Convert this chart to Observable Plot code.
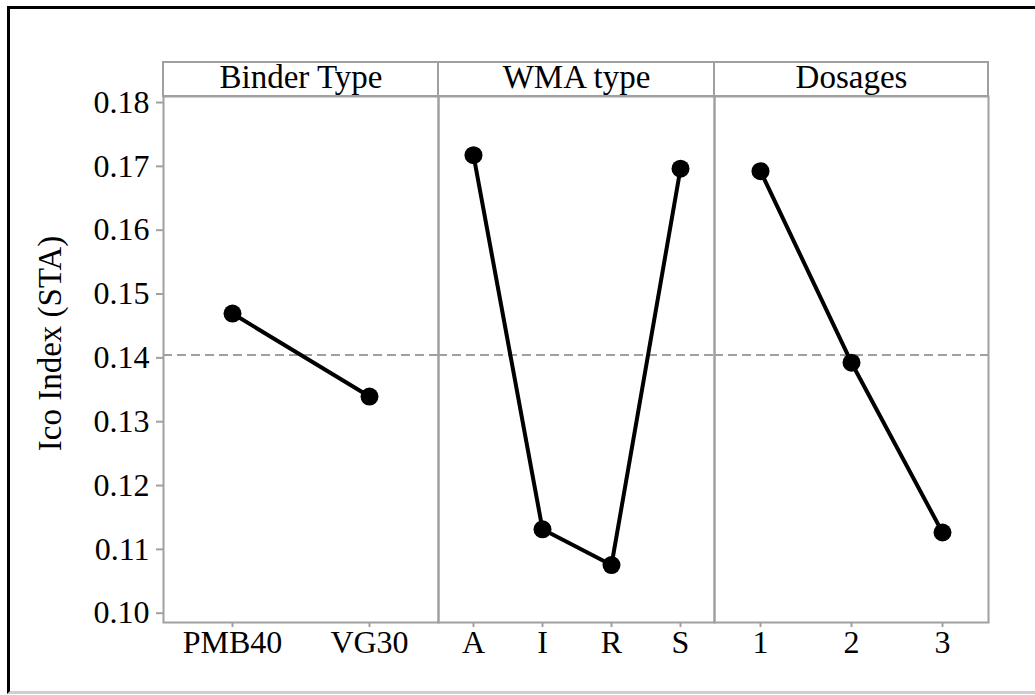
<!DOCTYPE html>
<html>
<head>
<meta charset="utf-8">
<script src="https://cdn.jsdelivr.net/npm/d3@7"></script>
<script src="https://cdn.jsdelivr.net/npm/@observablehq/plot@0.6"></script>
<style>
  html, body { margin: 0; padding: 0; background: #fff; }
  #wrap { position: relative; width: 1035px; height: 695px; overflow: hidden; background: #fff; }
  .outer { position: absolute; left: 7px; top: 6px; width: 1060px; height: 688px; box-sizing: border-box;
           border-top: 3px solid #000; border-left: 3px solid #000; border-bottom: 3px solid #cfcfcf; }
  .hdr { position: absolute; box-sizing: border-box; border: 2px solid #a0a0a0; }
  .vdiv { position: absolute; background: #a0a0a0; }
  .panel { position: absolute; }
</style>
</head>
<body>
<div id="wrap">
  <div class="outer"></div>
</div>
<script>
// ---- data ----
const factorNames = ["Binder Type", "WMA type", "Dosages"];
const binderCats = ["PMB40", "VG30"];
const binderVals = [0.1471, 0.1341];
const wmaCats = ["A", "I", "R", "S"];
const wmaVals = [0.1719, 0.1133, 0.1077, 0.1698];
const dosageCats = ["1", "2", "3"];
const dosageVals = [0.1694, 0.1394, 0.1128];
const yTicks = [0.10, 0.11, 0.12, 0.13, 0.14, 0.15, 0.16, 0.17, 0.18];
const yDomain = [0.0987, 0.1811];
const grandMean = 0.1406;
const yLabel = "Ico Index (STA)";

const GRAY = "#a0a0a0";
const FONT = "Liberation Serif";

const wrap = document.getElementById("wrap");

// frame geometry
const frameTop = 96, frameH = 526;
const panels = [
  {name: factorNames[0], cats: binderCats, vals: binderVals, left: 163, width: 275, yAxis: true},
  {name: factorNames[1], cats: wmaCats, vals: wmaVals, left: 438, width: 276, yAxis: false},
  {name: factorNames[2], cats: dosageCats, vals: dosageVals, left: 714, width: 274, yAxis: false}
];

const mt = 36, mb = 50;
panels.forEach((p) => {
  const data = p.cats.map((c, i) => ({cat: c, val: p.vals[i]}));
  const ml = p.yAxis ? p.left : 2;
  const mr = 2;
  const marks = [
    Plot.frame({stroke: GRAY, strokeWidth: 2}),
    Plot.ruleY([grandMean], {stroke: GRAY, strokeWidth: 2, strokeDasharray: "9,5"}),
    Plot.line(data, {x: "cat", y: "val", stroke: "black", strokeWidth: 4}),
    Plot.dot(data, {x: "cat", y: "val", r: 9, fill: "black", stroke: null}),
    Plot.axisX({tickSize: 5, tickPadding: 3, stroke: GRAY, strokeWidth: 2, fill: "black",
      fontSize: 32, fontFamily: FONT, fontVariant: "normal", label: null}),
    Plot.text([p.name], {frameAnchor: "top", dy: -19, lineAnchor: "middle", fontSize: 33,
      fontFamily: FONT, fill: "black"})
  ];
  if (p.yAxis) {
    marks.push(Plot.axisY({ticks: yTicks, tickFormat: d3.format(".2f"), tickSize: 7, tickPadding: 7,
      stroke: GRAY, strokeWidth: 2, fill: "black", fontSize: 32, fontFamily: FONT, fontVariant: "normal",
      label: null, dy: -1}));
    marks.push(Plot.text([yLabel], {frameAnchor: "left", rotate: -90, dx: -113, dy: -16,
      textAnchor: "middle", lineAnchor: "middle", fontSize: 33, fontFamily: FONT, fill: "black"}));
  }
  const svg = Plot.plot({
    width: ml + p.width + mr,
    height: mt + frameH + mb,
    marginLeft: ml, marginRight: mr, marginTop: mt, marginBottom: mb,
    style: {fontFamily: FONT, fontSize: "32px", background: "transparent", overflow: "visible", color: "black"},
    x: {type: "point", domain: p.cats, padding: 0.5, axis: null},
    y: {domain: yDomain, axis: null},
    marks
  });
  const holder = document.createElement("div");
  holder.className = "panel";
  holder.style.left = (p.left - ml) + "px";
  holder.style.top = (frameTop - mt) + "px";
  holder.appendChild(svg);
  wrap.appendChild(holder);
});

// header strip box
const hdr = document.createElement("div");
hdr.className = "hdr";
hdr.style.left = "162px"; hdr.style.top = "61px";
hdr.style.width = (989 - 162) + "px"; hdr.style.height = "36px";
wrap.appendChild(hdr);
[438, 714].forEach((x) => {
  const v = document.createElement("div");
  v.className = "vdiv";
  v.style.left = (x - 1) + "px"; v.style.top = "61px";
  v.style.width = "2px"; v.style.height = "36px";
  wrap.appendChild(v);
});
</script>
</body>
</html>
